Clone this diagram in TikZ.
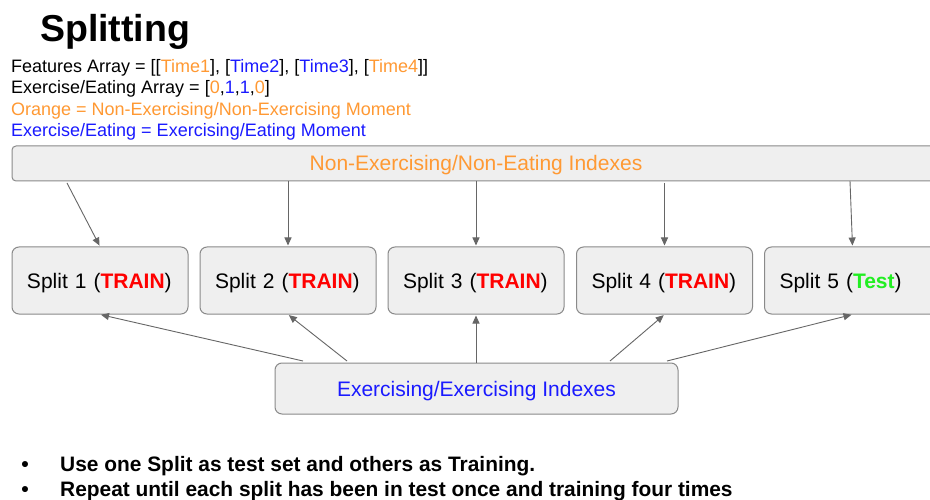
\documentclass[tikz,border=0pt]{standalone}
\usepackage{fontspec}
\setmainfont{Liberation Sans}
\usetikzlibrary{arrows.meta}
\definecolor{orng}{HTML}{FF9933}
\definecolor{blu}{HTML}{1A1AFF}
\definecolor{rd}{HTML}{FF0000}
\definecolor{grn}{HTML}{22EE22}
\definecolor{boxfill}{HTML}{EFEFEF}
\definecolor{boxline}{HTML}{8A8A8A}
\definecolor{arrcol}{HTML}{666666}
\tikzset{
  panel/.style={draw=boxline, fill=boxfill, line width=1pt, rounded corners=7pt, inner sep=0pt,
    font=\fontsize{21}{24}\selectfont, text height=15pt, text depth=0pt},
  splitbox/.style={panel, minimum width=176pt, minimum height=67pt, text width=146pt, align=left},
  arr/.style={draw=arrcol, line width=0.9pt, -{Triangle[length=8pt,width=7pt]}, shorten >=1pt},
  info/.style={anchor=base west, inner sep=0pt, font=\fontsize{18}{20}\selectfont},
  bul/.style={anchor=base west, inner sep=0pt, font=\fontsize{20.9}{24}\selectfont\bfseries},
  dot/.style={anchor=center, inner sep=0pt, font=\fontsize{14}{16}\selectfont}
}
\begin{document}
\begin{tikzpicture}[x=1pt,y=-1pt]
\useasboundingbox[fill=white] (0,0) rectangle (930,500);
\node[anchor=base west, inner sep=0pt, font=\fontsize{37.5}{40}\selectfont\bfseries] (title) at (40,41.5) {Splitting};
\node[info] (l1) at (11,72.5) {Features Array = [[\textcolor{orng}{Time1}], [\textcolor{blu}{Time2}], [\textcolor{blu}{Time3}], [\textcolor{orng}{Time4}]]};
\node[info] (l2) at (11,94) {Exercise/Eating Array = [\textcolor{orng}{0},\textcolor{blu}{1},\textcolor{blu}{1},\textcolor{orng}{0}]};
\node[info, text=orng] (l3) at (11,115.5) {Orange = Non-Exercising/Non-Exercising Moment};
\node[info, text=blu] (l4) at (11,137) {Exercise/Eating = Exercising/Eating Moment};

\node[panel, rounded corners=4pt, minimum width=928pt, minimum height=35pt, text=orng] (top) at (476,163.5) {Non-Exercising/Non-Eating Indexes};

\node[splitbox] (s1) at (100,280.5) {Split 1 (\textcolor{rd}{\bfseries TRAIN})};
\node[splitbox] (s2) at (288,280.5) {Split 2 (\textcolor{rd}{\bfseries TRAIN})};
\node[splitbox] (s3) at (476,280.5) {Split 3 (\textcolor{rd}{\bfseries TRAIN})};
\node[splitbox] (s4) at (664.5,280.5) {Split 4 (\textcolor{rd}{\bfseries TRAIN})};
\node[splitbox] (s5) at (852.5,280.5) {Split 5 (\textcolor{grn}{\bfseries Test})};

\node[panel, minimum width=403pt, minimum height=51pt, text=blu] (bot) at (476.5,388.5) {Exercising/Exercising Indexes};

\coordinate (t1) at (67,183);
\coordinate (t2) at (288,181);
\coordinate (t3) at (476,181);
\coordinate (t4) at (664.5,183);
\coordinate (t5) at (850,181);
\draw[arr] (t1) -- (s1.north);
\draw[arr] (t2) -- (s2.north);
\draw[arr] (t3) -- (s3.north);
\draw[arr] (t4) -- (s4.north);
\draw[arr] (t5) -- (s5.north);

\coordinate (b1) at (303,361);
\coordinate (b2) at (347,361);
\coordinate (b3) at (476,363);
\coordinate (b4) at (610,361);
\coordinate (b5) at (667,361);
\draw[arr] (b1) -- (s1.south);
\draw[arr] (b2) -- (s2.south);
\draw[arr] (b3) -- (s3.south);
\draw[arr] (b4) -- (s4.south);
\draw[arr] (b5) -- (s5.south);

\node[dot] (d1) at (25,465) {●};
\node[dot] (d2) at (25,490) {●};
\node[bul] (u1) at (60,471.5) {Use one Split as test set and others as Training.};
\node[bul] (u2) at (60,496) {Repeat until each split has been in test once and training four times};
\end{tikzpicture}
\end{document}
